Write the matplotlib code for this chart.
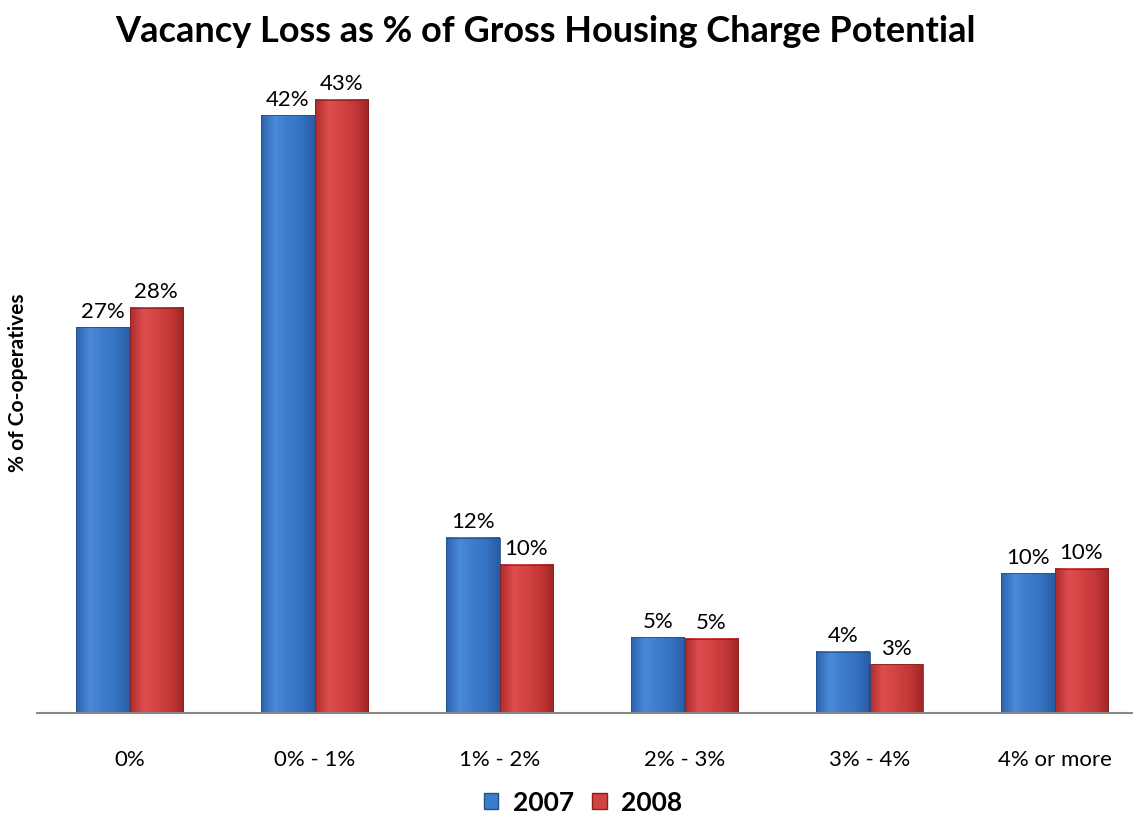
import matplotlib

matplotlib.use("Agg")
import matplotlib.pyplot as plt
import numpy as np
from matplotlib.colors import LinearSegmentedColormap
from matplotlib.patches import Patch

plt.rcParams["font.family"] = ["Lato", "DejaVu Sans"]

categories = ["0%", "0% - 1%", "1% - 2%", "2% - 3%", "3% - 4%", "4% or more"]
years = ["2007", "2008"]
share_2007 = [27.05, 41.9, 12.3, 5.3, 4.3, 9.8]
share_2008 = [28.4, 43.0, 10.4, 5.2, 3.4, 10.1]

blue_cmap = LinearSegmentedColormap.from_list(
    "b", ["#2d62ad", "#4a8ad8", "#3d7ccc", "#3573c2", "#2a5ca3"])
red_cmap = LinearSegmentedColormap.from_list(
    "r", ["#ad2b2b", "#de4e4e", "#d24343", "#c53838", "#a02626"])

fig = plt.figure(figsize=(11.33, 8.37), dpi=100)
ax = fig.add_axes([37 / 1133, 1 - 714 / 837, 1110 / 1133, 642 / 837])

x = np.arange(len(categories))
width = 0.29
grad = np.linspace(0, 1, 64).reshape(1, -1)

for vals, cmap, edge, off in [(share_2007, blue_cmap, "#234f8c", -width / 2),
                              (share_2008, red_cmap, "#8c2020", width / 2)]:
    bars = ax.bar(x + off, vals, width, color="none", edgecolor=edge, linewidth=0.6, zorder=3)
    for b, v in zip(bars, vals):
        ax.imshow(grad, cmap=cmap, aspect="auto", zorder=2,
                  extent=(b.get_x(), b.get_x() + b.get_width(), 0, b.get_height()))
        ax.text(b.get_x() + b.get_width() / 2, v + 0.45, f"{v:.0f}%",
                ha="center", va="bottom", fontsize=16)

ax.set_xlim(-0.5, 5.5)
ax.set_ylim(0, 45)
ax.set_xticks(x)
ax.set_xticklabels(categories, fontsize=16)
ax.tick_params(axis="x", length=0, pad=26)
ax.set_yticks([])
for s in ["top", "right", "left"]:
    ax.spines[s].set_visible(False)
ax.spines["bottom"].set_color("#888888")
ax.spines["bottom"].set_linewidth(1.5)
ax.spines["bottom"].set_zorder(4)

fig.text(545 / 1133, 1 - 32 / 837, "Vacancy Loss as % of Gross Housing Charge Potential",
         ha="center", va="center", fontsize=26, fontweight="bold")
fig.text(18 / 1133, 1 - 383 / 837, "% of Co-operatives", rotation=90,
         ha="center", va="center", fontsize=15, fontweight="bold")

handles = [Patch(facecolor="#3d7ccc", edgecolor="#234f8c"),
           Patch(facecolor="#d24343", edgecolor="#8c2020")]
leg = fig.legend(handles, years, loc="center", bbox_to_anchor=(583 / 1133, 1 - 803 / 837),
                 ncol=2, frameon=False, handlelength=0.55, handleheight=0.55,
                 handletextpad=0.55, columnspacing=0.7, prop={"weight": "bold", "size": 19})

fig.savefig("out.png", dpi=100)
